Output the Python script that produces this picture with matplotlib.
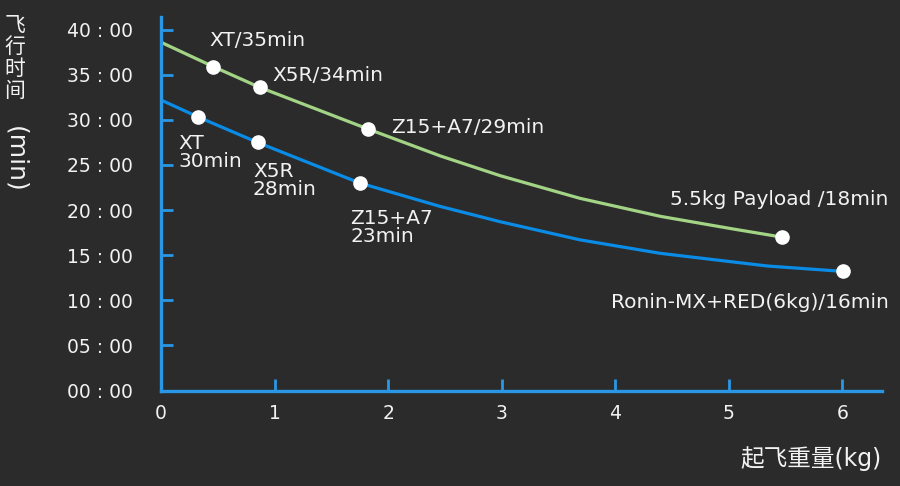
import matplotlib
matplotlib.use("Agg")
import matplotlib.pyplot as plt

plt.rcParams['font.family'] = ['DejaVu Sans', 'Noto Sans CJK SC']

BG = '#2b2b2b'
AXIS_BLUE = '#2a97e6'
LINE_BLUE = '#0a8ce6'
LINE_GREEN = '#a3d486'
WHITE = '#f2f2f2'

# Curves (takeoff weight kg, flight time min)
green_x = [0.0, 0.46, 0.87, 1.82, 2.46, 2.99, 3.69, 4.40, 5.04, 5.47]
green_y = [38.6, 35.9, 33.6, 29.0, 26.0, 23.8, 21.3, 19.3, 17.9, 17.0]
blue_x = [0.0, 0.33, 0.85, 1.75, 2.46, 2.99, 3.69, 4.40, 5.34, 6.01]
blue_y = [32.2, 30.3, 27.5, 23.0, 20.4, 18.7, 16.7, 15.2, 13.8, 13.2]

# Marked points
green_pts_x = [0.46, 0.87, 1.82, 5.47]
green_pts_y = [35.9, 33.6, 29.0, 17.0]
green_labels = ['XT/35min', 'X5R/34min', 'Z15+A7/29min', '5.5kg Payload /18min']
blue_pts_x = [0.33, 0.85, 1.75, 6.01]
blue_pts_y = [30.3, 27.5, 23.0, 13.2]
blue_labels = ['XT\n30min', 'X5R\n28min', 'Z15+A7\n23min', 'Ronin-MX+RED(6kg)/16min']

x_ticks = [0, 1, 2, 3, 4, 5, 6]
y_ticks = [0, 5, 10, 15, 20, 25, 30, 35, 40]
y_tick_labels = ['00 : 00', '05 : 00', '10 : 00', '15 : 00', '20 : 00',
                 '25 : 00', '30 : 00', '35 : 00', '40 : 00']

fig = plt.figure(figsize=(9, 4.86), dpi=100, facecolor=BG)
ax = fig.add_axes([161/900, 1-390.5/486, (882-161)/900, (390.5-17)/486], facecolor=BG)

ax.plot(green_x, green_y, color=LINE_GREEN, lw=2.3, solid_capstyle='round',
        solid_joinstyle='round', zorder=2)
ax.plot(blue_x, blue_y, color=LINE_BLUE, lw=2.3, solid_capstyle='round',
        solid_joinstyle='round', zorder=2)
ax.plot(green_pts_x, green_pts_y, 'o', color='white', ms=9.5, zorder=3)
ax.plot(blue_pts_x, blue_pts_y, 'o', color='white', ms=9.5, zorder=3)

ax.set_xlim(0, 6.35)
ax.set_ylim(0, 41.4)

fs = 14.5
g_pos = [(0.43, 38.8, 'left'), (0.98, 34.9, 'left'), (2.03, 29.1, 'left'), (6.41, 21.2, 'right')]
for (tx, ty, ha), lab in zip(g_pos, green_labels):
    ax.text(tx, ty, lab, color=WHITE, fontsize=fs, ha=ha, va='center', clip_on=False)
b_pos = [(0.15, 26.4, 'left'), (0.81, 23.3, 'left'), (1.67, 18.1, 'left'), (6.41, 9.8, 'right')]
for (tx, ty, ha), lab in zip(b_pos, blue_labels):
    ax.text(tx, ty, lab, color=WHITE, fontsize=fs, ha=ha, va='center',
            linespacing=0.95, clip_on=False)

for s in ['top', 'right']:
    ax.spines[s].set_visible(False)
for s in ['left', 'bottom']:
    ax.spines[s].set_color(AXIS_BLUE)
    ax.spines[s].set_linewidth(2.4)

ax.set_xticks(x_ticks)
ax.set_xticklabels([str(v) for v in x_ticks])
ax.set_yticks(y_ticks)
ax.set_yticklabels(y_tick_labels)
ax.tick_params(axis='both', direction='in', length=8.5, width=2.0, color=AXIS_BLUE,
               labelcolor=WHITE, labelsize=13.5)
ax.tick_params(axis='y', pad=20)
ax.tick_params(axis='x', pad=10)

# axis titles
fig.text(15/900, 1-58/486, '飞\n行\n时\n间', color=WHITE, fontsize=15, ha='center', va='center',
         linespacing=1.0, family=['Noto Sans CJK SC'])
fig.text(15/900, 1-159/486, '(min)', color=WHITE, fontsize=18, ha='center', va='center',
         rotation=-90)
fig.text(882/900, 1-459/486, '起飞重量(kg)', color=WHITE, fontsize=17, ha='right', va='center')

fig.savefig('out.png', dpi=100, facecolor=BG)
